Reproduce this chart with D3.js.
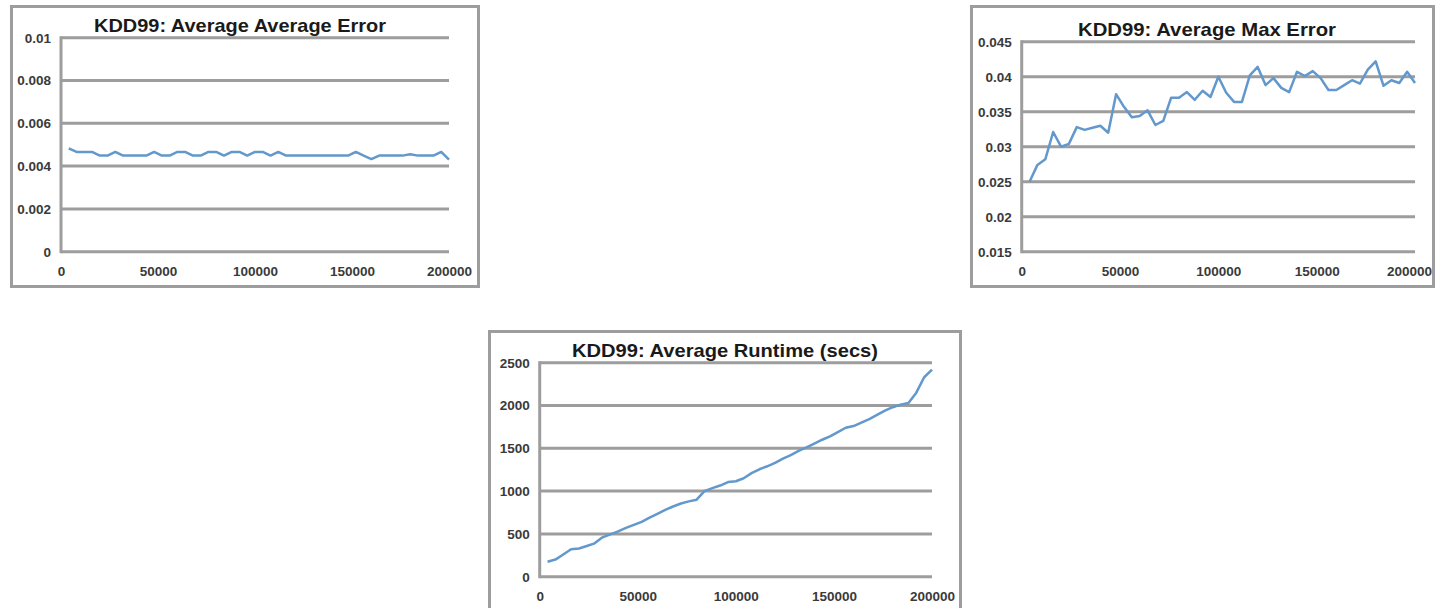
<!DOCTYPE html>
<html>
<head>
<meta charset="utf-8">
<script src="https://cdn.jsdelivr.net/npm/d3@7"></script>
<style>
  body { margin: 0; background: #fff; }
  svg text { font-family: "Liberation Sans", Arial, sans-serif; }
</style>
</head>
<body>
<svg id="vis"></svg>
<script>
const WIDTH = 1435;
const HEIGHT = 608;

// x positions (number of records), shared by the three charts
const xs = [4000, 8000, 12000, 16000, 20000, 24000, 28000, 32000, 36000, 40000,
            44000, 48000, 52000, 56000, 60000, 64000, 68000, 72000, 76000, 80000,
            84000, 88000, 92000, 96000, 100000, 104000, 108000, 112000, 116000, 120000,
            124000, 128000, 132000, 136000, 140000, 144000, 148000, 152000, 156000, 160000,
            164000, 168000, 172000, 176000, 180000, 184000, 188000, 192000, 196000, 200000];

// KDD99: Average Average Error
const avgError = [0.00483, 0.00466, 0.00466, 0.00466, 0.00449, 0.00449, 0.00466, 0.00449, 0.00449, 0.00449,
                  0.00449, 0.00466, 0.00449, 0.00449, 0.00466, 0.00466, 0.00449, 0.00449, 0.00466, 0.00466,
                  0.00449, 0.00466, 0.00466, 0.00449, 0.00466, 0.00466, 0.00449, 0.00466, 0.00449, 0.00449,
                  0.00449, 0.00449, 0.00449, 0.00449, 0.00449, 0.00449, 0.00449, 0.00466, 0.00449, 0.00433,
                  0.00449, 0.00449, 0.00449, 0.00449, 0.00455, 0.00449, 0.00449, 0.00449, 0.00466, 0.00430];

// KDD99: Average Max Error
const maxError = [0.0250, 0.0274, 0.0282, 0.0321, 0.0300, 0.0304, 0.0328, 0.0324, 0.0327, 0.0330,
                  0.0320, 0.0375, 0.0357, 0.0342, 0.0344, 0.0352, 0.0331, 0.0337, 0.0370, 0.0370,
                  0.0378, 0.0367, 0.0380, 0.0371, 0.0400, 0.0377, 0.0364, 0.0364, 0.0402, 0.0414,
                  0.0388, 0.0398, 0.0384, 0.0378, 0.0407, 0.0401, 0.0408, 0.0398, 0.0381, 0.0381,
                  0.0388, 0.0395, 0.0390, 0.0410, 0.0422, 0.0387, 0.0395, 0.0391, 0.0407, 0.0391];

// KDD99: Average Runtime (secs)
const runtime = [175, 200, 260, 320, 330, 358, 390, 460, 495, 530,
                 570, 605, 640, 690, 735, 780, 820, 855, 880, 900,
                 1000, 1035, 1065, 1105, 1115, 1150, 1210, 1255, 1290, 1330,
                 1380, 1420, 1470, 1510, 1555, 1600, 1640, 1690, 1740, 1760,
                 1800, 1840, 1890, 1940, 1980, 2010, 2030, 2150, 2330, 2420];

const xTicks = [0, 50000, 100000, 150000, 200000];
const avgErrorTicks = [0, 0.002, 0.004, 0.006, 0.008, 0.01];
const maxErrorTicks = [0.015, 0.02, 0.025, 0.03, 0.035, 0.04, 0.045];
const runtimeTicks = [0, 500, 1000, 1500, 2000, 2500];

const GREY = "#9d9d9d";
const BLUE = "#6398cc";

const svg = d3.select("#vis")
    .attr("width", WIDTH)
    .attr("height", HEIGHT);

const charts = [
    { title: "KDD99: Average Average Error", values: avgError, ticks: avgErrorTicks,
      frame: [11.5, 6.5, 467, 280], left: 61, right: 449, top: 37.7, bottom: 251.7,
      titleX: 240, titleW: 292, lastShift: 0 },
    { title: "KDD99: Average Max Error", values: maxError, ticks: maxErrorTicks,
      frame: [971.5, 6.5, 462, 280], left: 1021.7, right: 1415, top: 41.7, bottom: 251.7,
      titleX: 1207, titleW: 258, lastShift: -6 },
    { title: "KDD99: Average Runtime (secs)", values: runtime, ticks: runtimeTicks,
      frame: [489.5, 331.5, 471, 290], left: 539.7, right: 932, top: 362.7, bottom: 576.7,
      titleX: 725, titleW: 306, lastShift: 0 }
];

function drawChart(c) {
    const g = svg.append("g");

    // marco del grafico
    g.append("rect")
        .attr("x", c.frame[0]).attr("y", c.frame[1])
        .attr("width", c.frame[2]).attr("height", c.frame[3])
        .attr("fill", "#fff")
        .attr("stroke", GREY)
        .attr("stroke-width", 3);

    const x = d3.scaleLinear().domain([0, 200000]).range([c.left, c.right]);
    const y = d3.scaleLinear().domain(d3.extent(c.ticks)).range([c.bottom, c.top]);

    // lineas de grilla
    g.selectAll("line.grid")
        .data(c.ticks)
        .join("line")
        .attr("class", "grid")
        .attr("x1", c.left).attr("x2", c.right)
        .attr("y1", d => y(d)).attr("y2", d => y(d))
        .attr("stroke", GREY)
        .attr("stroke-width", 3);

    // eje vertical
    g.append("line")
        .attr("x1", c.left).attr("x2", c.left)
        .attr("y1", c.top - 1.5).attr("y2", c.bottom + 1.5)
        .attr("stroke", GREY)
        .attr("stroke-width", 3);

    // etiquetas eje Y
    const ejeY = g.append("g")
        .attr("transform", `translate(${c.left},0)`)
        .call(d3.axisLeft(y).tickValues(c.ticks).tickFormat(d => String(d)).tickSize(0).tickPadding(10));
    ejeY.select(".domain").remove();

    // etiquetas eje X
    const ejeX = g.append("g")
        .attr("transform", `translate(0,${c.bottom})`)
        .call(d3.axisBottom(x).tickValues(xTicks).tickFormat(d => String(d)).tickSize(0).tickPadding(15));
    ejeX.select(".domain").remove();
    // la ultima etiqueta queda pegada al borde, se corre un poco
    ejeX.selectAll(".tick text").attr("dx", (d, i) => i === xTicks.length - 1 ? c.lastShift : 0);

    g.selectAll(".tick text")
        .attr("font-family", "'Liberation Sans', Arial, sans-serif")
        .attr("font-size", 13.5)
        .attr("font-weight", "bold")
        .attr("fill", "#3a3a3a");

    // serie
    const line = d3.line()
        .x((d, i) => x(xs[i]))
        .y(d => y(d));

    g.append("path")
        .datum(c.values)
        .attr("d", line)
        .attr("fill", "none")
        .attr("stroke", BLUE)
        .attr("stroke-width", 2.5)
        .attr("stroke-linejoin", "round");

    // titulo
    g.append("text")
        .attr("x", c.titleX)
        .attr("y", c.top - 6.2)
        .attr("text-anchor", "middle")
        .attr("font-size", 19)
        .attr("font-weight", "bold")
        .attr("fill", "#1a1a1a")
        .attr("textLength", c.titleW)
        .attr("lengthAdjust", "spacingAndGlyphs")
        .text(c.title);
}

charts.forEach(drawChart);
</script>
</body>
</html>
